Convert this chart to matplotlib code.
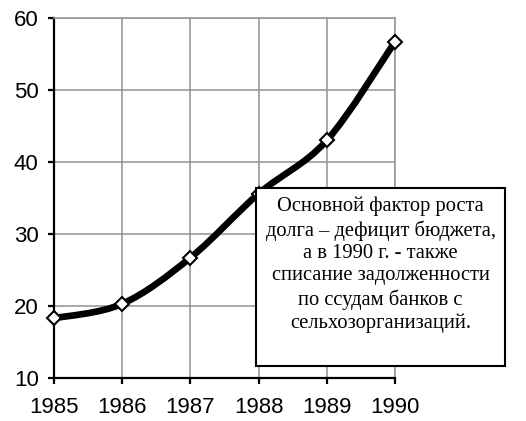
import matplotlib.pyplot as plt
from matplotlib.path import Path
from matplotlib.patches import PathPatch, Rectangle

years = [1985, 1986, 1987, 1988, 1989, 1990]
debt = [18.3, 20.3, 26.7, 35.6, 43.0, 56.7]
note = ("Основной фактор роста\nдолга – дефицит бюджета,\nа в 1990 г. - также\n"
        "списание задолженности\nпо ссудам банков с\nсельхозорганизаций.")

fig = plt.figure(figsize=(5.26, 4.21), dpi=100)
ax = fig.add_axes([54 / 526, 43 / 421, 341 / 526, 360 / 421])

# smoothed line (excel-like catmull-rom via bezier segments)
pts = list(zip(years, debt))
verts = [pts[0]]
codes = [Path.MOVETO]
for i in range(len(pts) - 1):
    p0 = pts[max(i - 1, 0)]
    p1 = pts[i]
    p2 = pts[i + 1]
    p3 = pts[min(i + 2, len(pts) - 1)]
    c1 = (p1[0] + (p2[0] - p0[0]) / 6, p1[1] + (p2[1] - p0[1]) / 6)
    c2 = (p2[0] - (p3[0] - p1[0]) / 6, p2[1] - (p3[1] - p1[1]) / 6)
    verts += [c1, c2, p2]
    codes += [Path.CURVE4] * 3
ax.add_patch(PathPatch(Path(verts, codes), fill=False, lw=4.8, color="black",
                       capstyle="round", joinstyle="round", zorder=3))
ax.plot(years, debt, "D", ms=7.5, mfc="white", mec="black", mew=1.5,
        zorder=4, clip_on=False)

ax.set_xlim(1985, 1990)
ax.set_ylim(10, 60)
ax.set_xticks(years)
ax.set_yticks(range(10, 61, 10))
ax.grid(True, color="#999999", lw=1.2)
ax.set_axisbelow(True)
for s in ["top", "right"]:
    ax.spines[s].set_color("#999999")
    ax.spines[s].set_linewidth(1.2)
for s in ["left", "bottom"]:
    ax.spines[s].set_linewidth(1.6)
ax.tick_params(direction="out", length=4, width=1.6, labelsize=16)
ax.tick_params(axis="x", pad=10)
ax.tick_params(axis="y", pad=7)
for lab in ax.get_xticklabels() + ax.get_yticklabels():
    lab.set_family("Liberation Sans")

# annotation box
fig.patches.append(Rectangle((256 / 526, 55 / 421), 249 / 526, 178 / 421,
                             transform=fig.transFigure, facecolor="white",
                             edgecolor="black", lw=1.5, zorder=5))
fig.text(380.5 / 526, 1 - 197 / 421, note, ha="center", va="top",
         family="Liberation Serif", fontsize=14.8, linespacing=1.24, zorder=6)

fig.savefig("out.png", dpi=100)
